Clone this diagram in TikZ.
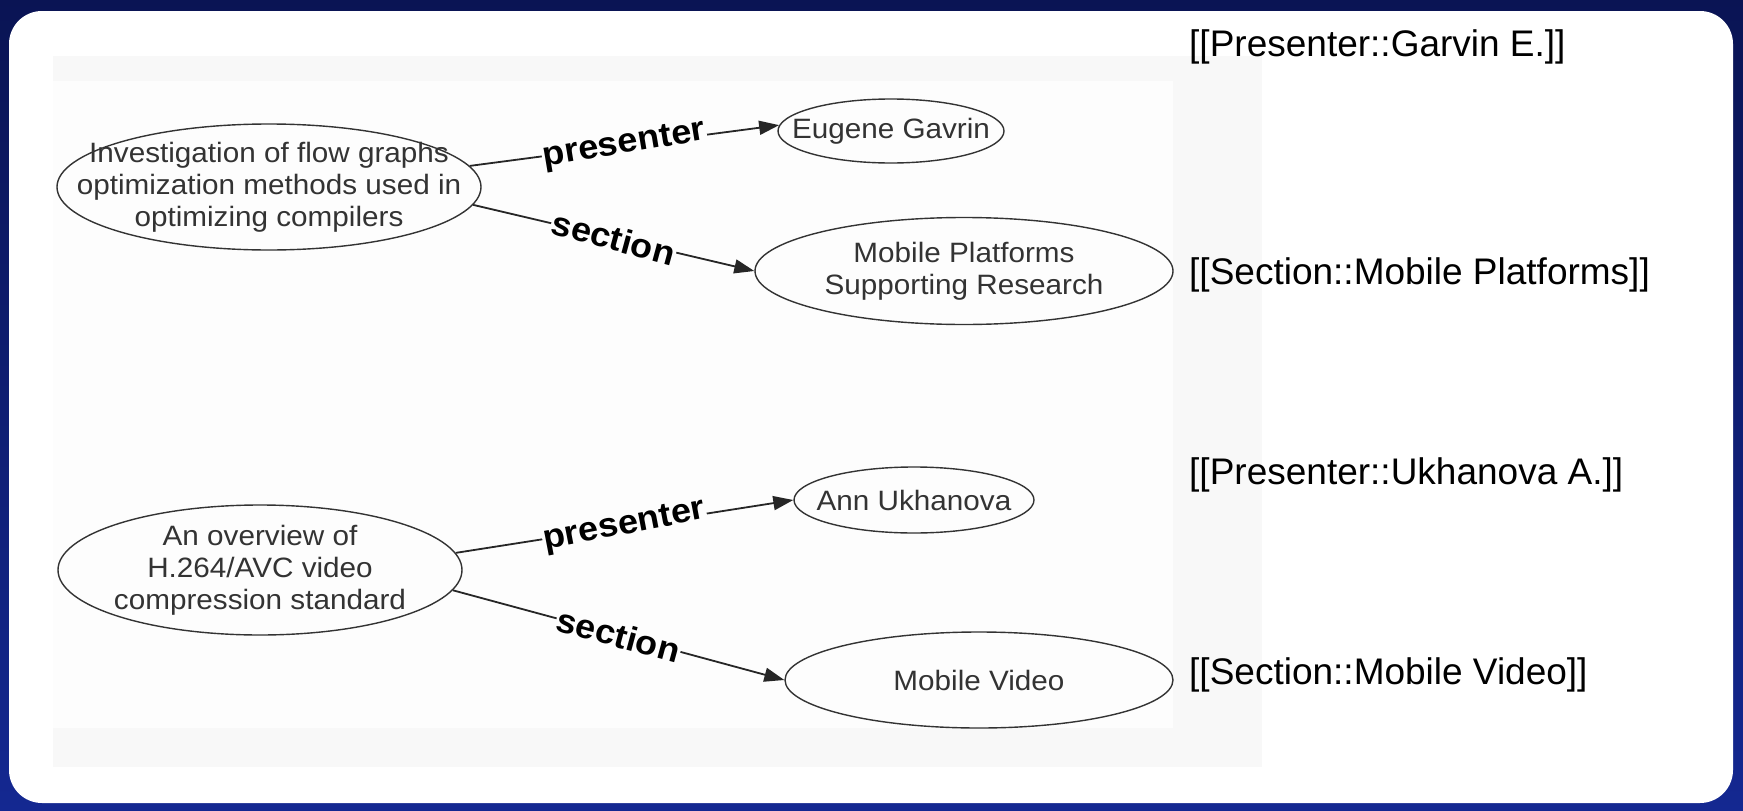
\documentclass[tikz,border=0pt]{standalone}
\usepackage{fontspec}
\setmainfont{Liberation Sans}
\newfontfamily\dotfont[FakeStretch=1.06]{Liberation Sans}
\usetikzlibrary{shapes.geometric,arrows.meta}
\definecolor{slidetop}{RGB}{10,20,84}
\definecolor{slidebot}{RGB}{20,40,145}
\definecolor{imgedge}{RGB}{248,248,248}
\definecolor{imgback}{RGB}{253,253,253}
\tikzset{
  topic/.style={ellipse, draw=black!80, line width=1.4pt, inner sep=0pt},
  topictext/.style={font=\dotfont\fontsize{28}{32}\selectfont, text=black!80, align=center},
  rel/.style={draw=black!85, line width=1.8pt, -{Triangle[length=20pt,width=14pt]}},
  rellabel/.style={font=\dotfont\bfseries\fontsize{34}{36}\selectfont, fill=imgback, inner sep=1pt, sloped},
  wiki/.style={font=\fontsize{37}{44}\selectfont, anchor=west, inner sep=0pt}
}
\begin{document}
\begin{tikzpicture}[x=1pt,y=-1pt]
    % slide background
    \shade [top color=slidetop, bottom color=slidebot] (0,0) rectangle (1743,811);
    \fill [white, rounded corners=33pt] (9,11) rectangle (1733,803);
    % graph image
    \fill [imgedge] (53,56) rectangle (1262,767);
    \fill [imgback] (53,81) rectangle (1173,728);
    % talk topics
    \node [topic, minimum width=424pt, minimum height=126pt,
        label={[topictext]center:Investigation of flow graphs\\optimization methods used in\\optimizing compilers}] (flow) at (269,187) {};
    \node [topic, minimum width=404pt, minimum height=130pt,
        label={[topictext]center:An overview of\\H.264/AVC video\\compression standard}] (h264) at (260,570) {};
    % presenters
    \node [topic, minimum width=226pt, minimum height=64pt,
        label={[topictext]center:Eugene Gavrin}] (gavrin) at (891,131) {};
    \node [topic, minimum width=240pt, minimum height=66pt,
        label={[topictext]center:Ann Ukhanova}] (ukhanova) at (914,500) {};
    % sections
    \node [topic, minimum width=418pt, minimum height=107pt,
        label={[topictext]center:Mobile Platforms\\Supporting Research}] (mplat) at (964,271) {};
    \node [topic, minimum width=388pt, minimum height=96pt,
        label={[topictext]center:Mobile Video}] (mvideo) at (979,680) {};
    % relations
    \draw [rel] (flow.6) -- node [rellabel, rotate=2] {presenter} (gavrin.177);
    \draw [rel] (flow.-5) -- node [rellabel, rotate=-2] {section} (mplat.west);
    \draw [rel] (h264.5) -- node [rellabel, rotate=2] {presenter} (ukhanova.west);
    \draw [rel] (h264.-6) -- node [rellabel] {section} (mvideo.west);
    % wiki markup
    \node [wiki] (wgavrin) at (1189,47) {[[Presenter::Garvin E.]]};
    \node [wiki] (wmplat) at (1189,275) {[[Section::Mobile Platforms]]};
    \node [wiki] (wukhanova) at (1189,475) {[[Presenter::Ukhanova A.]]};
    \node [wiki] (wmvideo) at (1189,675) {[[Section::Mobile Video]]};
\end{tikzpicture}
\end{document}
